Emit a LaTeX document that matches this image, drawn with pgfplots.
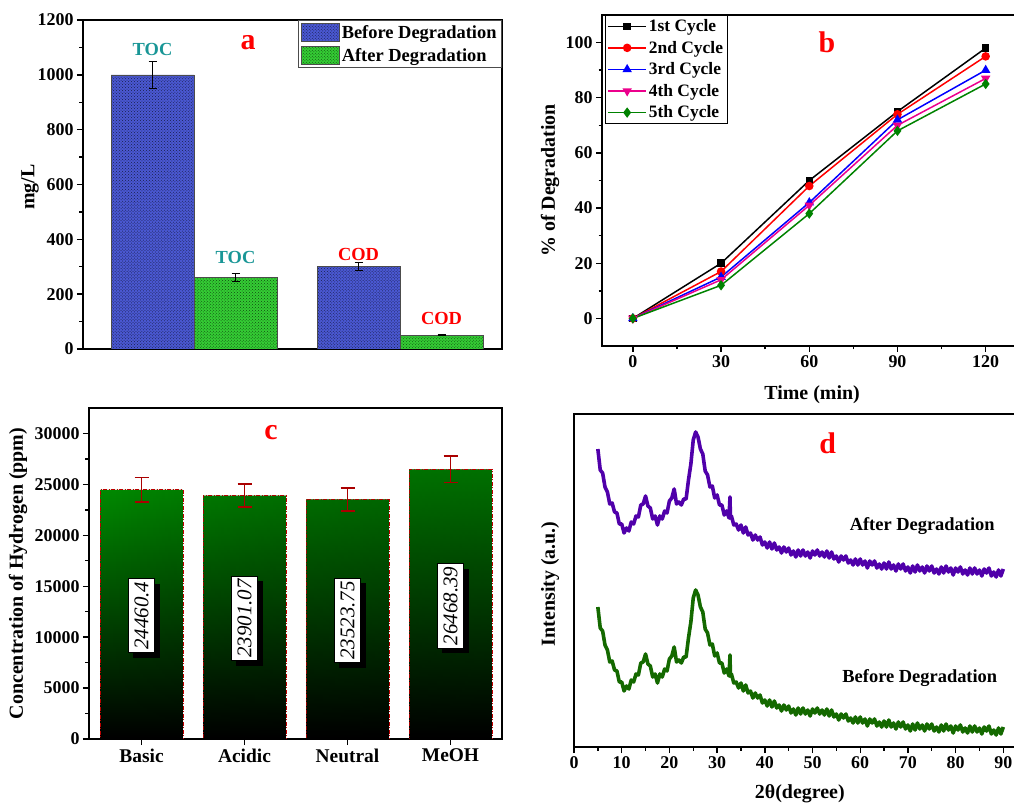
\documentclass[border=0pt]{standalone}
\usepackage{pgfplots}
\pgfplotsset{compat=1.18}
\usepackage{fontspec}
\setmainfont{Liberation Serif}
\usetikzlibrary{patterns,shadows,fadings}

\definecolor{barblue}{RGB}{74,88,210}
\definecolor{bargreen}{RGB}{52,205,52}
\definecolor{tocteal}{RGB}{25,150,150}
\definecolor{hgreen}{RGB}{0,150,0}
\definecolor{errred}{RGB}{170,0,0}
\definecolor{xrdpurple}{RGB}{80,0,170}
\definecolor{xrdgreen}{RGB}{20,105,0}
\definecolor{cycgreen}{RGB}{0,130,0}

\newcommand{\fs}[1]{\fontsize{#1}{#1}\selectfont\bfseries}

\pgfplotsset{
  panel/.style={
    scale only axis, anchor=south west,
    axis line style={line width=2.2bp},
    every tick/.style={black, line width=1.4bp},
    tick align=outside,
    major tick length=6bp,
    minor tick length=3.5bp,
    xtick pos=bottom, ytick pos=left,
    tick label style={font=\fs{18}},
    /pgf/number format/assume math mode=true,
    /pgf/number format/1000 sep={},
    scaled ticks=false,
  },
  ylab/.style 2 args={every axis y label/.style={at={(axis description cs:#1,#2)}, rotate=90, anchor=center, font=\fs{20}}},
  xlab/.style 2 args={every axis x label/.style={at={(axis description cs:#1,#2)}, anchor=center, font=\fs{20}}},
}

\begin{document}
\begin{tikzpicture}
\path[use as bounding box] (0,0) rectangle (1014bp,805bp);

% ---------------- (a) TOC / COD ----------------
\begin{axis}[panel, at={(83bp,456bp)}, width=419bp, height=329bp,
  xmin=0.461, xmax=2.495, ymin=0, ymax=1200,
  xtick=\empty, ytick={0,200,...,1200}, minor y tick num=1,
  ybar, bar width=0.403, bar shift=0pt,
  ylabel={mg/L}, ylab={-0.1265}{0.492},
  area legend,
  legend image code/.code={\draw[#1] (0bp,-9bp) rectangle (38bp,9bp);},
  legend style={at={(1,1)}, anchor=north east, draw=black!70, line width=1bp,
    font=\fs{18.5}, inner xsep=3bp, inner ysep=3bp, row sep=4bp},
  legend cell align=left,
]
\addplot[fill=barblue, draw=black!70, line width=0.6bp,
  postaction={pattern=crosshatch dots, pattern color=barblue!35!black},
  error bars/.cd, y dir=both, y explicit,
  error bar style={black, line width=1bp, solid},
  error mark options={rotate=90, mark size=4bp, line width=1bp, black}]
  coordinates {(0.7985,1000) +- (0,50) (1.7985,300) +- (0,15)};
\addlegendentry{Before Degradation}
\addplot[fill=bargreen, draw=black!70, line width=0.6bp,
  postaction={pattern=crosshatch dots, pattern color=bargreen!35!black},
  error bars/.cd, y dir=both, y explicit,
  error bar style={black, line width=1bp, solid},
  error mark options={rotate=90, mark size=4bp, line width=1bp, black}]
  coordinates {(1.2015,262) +- (0,15) (2.2015,50) +- (0,2)};
\addlegendentry{After Degradation}
\node[font=\fs{18.5}, text=tocteal] at (axis cs:0.7985,1094) {TOC};
\node[font=\fs{18.5}, text=tocteal] at (axis cs:1.2015,332) {TOC};
\node[font=\fs{18.5}, text=red] at (axis cs:1.7985,346) {COD};
\node[font=\fs{18.5}, text=red] at (axis cs:2.2015,113) {COD};
\node[font=\fs{30}, text=red] at (axis cs:1.262,1116) {a};
\end{axis}

% ---------------- (b) degradation cycles ----------------
\begin{axis}[panel, at={(602bp,459bp)}, width=416bp, height=331bp,
  xmin=-10.5, xmax=131, ymin=-10, ymax=110,
  xtick={0,30,...,120}, minor x tick num=1,
  ytick={0,20,...,100}, minor y tick num=1,
  xlabel={Time (min)}, ylabel={\% of Degradation},
  xlab={0.505}{-0.148}, ylab={-0.125}{0.5},
  legend image code/.code={\draw[mark repeat=2, mark phase=2, #1] plot coordinates {(0bp,0bp) (19bp,0bp) (38bp,0bp)};},
  legend style={at={(axis description cs:0.007,1)}, anchor=north west, draw=black, line width=1bp,
    font=\fs{17.5}, inner xsep=2bp, inner ysep=2bp, row sep=4bp},
  legend cell align=left,
  every axis plot/.append style={line width=1.5bp},
]
\addplot[black, mark=square*, mark size=3bp] coordinates {(0,0) (30,20) (60,50) (90,75) (120,98)};
\addlegendentry{1st Cycle}
\addplot[red, mark=*, mark size=3.5bp] coordinates {(0,0) (30,17) (60,48) (90,74) (120,95)};
\addlegendentry{2nd Cycle}
\addplot[blue, mark=triangle*, mark size=4bp] coordinates {(0,0) (30,15) (60,42) (90,72) (120,90)};
\addlegendentry{3rd Cycle}
\addplot[magenta, mark=triangle*, mark size=4bp, mark options={rotate=180}] coordinates {(0,0) (30,14) (60,41) (90,70) (120,87)};
\addlegendentry{4th Cycle}
\addplot[cycgreen, mark=diamond*, mark size=4bp] coordinates {(0,0) (30,12) (60,38) (90,68) (120,85)};
\addlegendentry{5th Cycle}
\node[font=\fs{30}, text=red] at (axis cs:66,100) {b};
\end{axis}

% ---------------- (c) hydrogen concentration ----------------
\begin{axis}[panel, at={(89bp,66bp)}, width=413bp, height=331bp,
  xmin=0.49, xmax=4.5, ymin=0, ymax=32500,
  xtick={1,2,3,4}, xticklabels={Basic,Acidic,Neutral,MeOH},
  xticklabel style={font=\fs{19.5}},
  ytick={0,5000,...,30000}, minor y tick num=1,
  ylabel={Concentration of Hydrogen (ppm)}, ylab={-0.172}{0.5},
  ybar, bar width=0.805, bar shift=0pt,
]
\addplot[draw=red!75!black, line width=0.8bp, dash pattern=on 4bp off 1.5bp on 1bp off 1.5bp,
  top color=hgreen, middle color=hgreen!70!black, bottom color=black,
  postaction={fill=black, fill opacity=0.5, path fading=west},
  error bars/.cd, y dir=both, y explicit,
  error bar style={errred, line width=1.6bp, solid},
  error mark options={rotate=90, mark size=7bp, line width=1.6bp, errred, solid}]
  coordinates {(1,24460.4) +- (0,1200) (2,23901.07) +- (0,1150) (3,23523.75) +- (0,1150) (4,26468.39) +- (0,1300)};
\tikzset{vallabel/.style={rotate=90, fill=white, draw=black, line width=0.6bp,
  inner xsep=3bp, inner ysep=6bp, font=\fontsize{21}{21}\selectfont\itshape,
  drop shadow={shadow xshift=5bp, shadow yshift=-5bp, opacity=1, fill=black}}}
\node[vallabel] at (axis cs:1,12100) {24460.4};
\node[vallabel] at (axis cs:2,11850) {23901.07};
\node[vallabel] at (axis cs:3,11640) {23523.75};
\node[vallabel] at (axis cs:4,13080) {26468.39};
\node[font=\fs{30}, text=red] at (axis cs:2.257,30100) {c};
\end{axis}

% ---------------- (d) XRD patterns ----------------
\begin{axis}[panel, at={(574bp,58bp)}, width=443.6bp, height=333bp,
  xmin=0, xmax=93, ymin=0, ymax=333,
  xtick={0,10,...,90}, minor x tick num=1, ytick=\empty,
  xlabel={2θ(degree)}, ylabel={Intensity (a.u.)},
  xlab={0.509}{-0.141}, ylab={-0.054}{0.49},
  every axis plot/.append style={line width=3.6bp, line join=round},
]
\addplot[xrdpurple] table {
5.0 298
5.5 277
6.0 274
6.5 260
7.0 255
7.5 243
8.0 244
8.5 235
9.0 234
9.5 223
10.0 223
10.5 214
11.0 219
11.5 216
12.0 225
12.5 223
13.0 231
13.5 230
14.0 242
14.5 243
15.0 251
15.5 241
16.0 239
16.5 228
17.0 231
17.5 222
18.0 231
18.5 228
19.0 236
19.5 234
20.0 246
20.5 249
21.0 258
21.5 243
22.0 245
22.5 242
23.0 248
23.5 248
24.0 267
24.5 283
25.0 307
25.5 315
26.0 310
26.5 298
27.0 293
27.5 276
28.0 272
28.5 260
29.0 261
29.5 249
30.0 252
30.5 242
31.0 242
31.5 232
32.0 236
32.5 229
32.7 250
32.8 229
33.0 231
33.5 222
34.0 223
34.5 217
35.0 222
35.5 214
36.0 220
36.5 212
37.0 214
37.5 207
38.0 212
38.5 207
39.0 210
39.5 202
40.0 205
40.5 199
41.0 205
41.5 198
42.0 204
42.5 197
43.0 200
43.5 194
44.0 200
44.5 195
45.0 199
45.5 192
46.0 196
46.5 190
47.0 197
47.5 191
48.0 197
48.5 191
49.0 195
49.5 189
50.0 196
50.5 192
51.0 197
51.5 191
52.0 195
52.5 190
53.0 196
53.5 189
54.0 195
54.5 188
55.0 191
55.5 185
56.0 191
56.5 187
57.0 191
57.5 184
58.0 187
58.5 182
59.0 188
59.5 182
60.0 188
60.5 182
61.0 186
61.5 179
62.0 186
62.5 182
63.0 186
63.5 179
64.0 183
64.5 178
65.0 184
65.5 178
66.0 185
66.5 178
67.0 182
67.5 176
68.0 183
68.5 178
69.0 183
69.5 176
70.0 180
70.5 174
71.0 181
71.5 175
72.0 182
72.5 176
73.0 180
73.5 174
74.0 181
74.5 176
75.0 181
75.5 174
76.0 178
76.5 173
77.0 180
77.5 174
78.0 181
78.5 175
79.0 179
79.5 172
80.0 179
80.5 175
81.0 180
81.5 173
82.0 177
82.5 172
83.0 179
83.5 173
84.0 179
84.5 173
85.0 177
85.5 171
86.0 178
86.5 174
87.0 179
87.5 171
88.0 175
88.5 170
89.0 177
89.5 171
90.0 178
};
\addplot[xrdgreen] table {
5.0 140
5.5 119
6.0 116
6.5 102
7.0 97
7.5 85
8.0 86
8.5 77
9.0 76
9.5 65
10.0 65
10.5 56
11.0 61
11.5 58
12.0 67
12.5 65
13.0 73
13.5 72
14.0 84
14.5 85
15.0 93
15.5 83
16.0 81
16.5 70
17.0 73
17.5 64
18.0 73
18.5 70
19.0 78
19.5 76
20.0 88
20.5 91
21.0 100
21.5 85
22.0 87
22.5 84
23.0 90
23.5 90
24.0 109
24.5 125
25.0 149
25.5 157
26.0 152
26.5 140
27.0 135
27.5 118
28.0 114
28.5 102
29.0 103
29.5 91
30.0 94
30.5 84
31.0 84
31.5 74
32.0 78
32.5 71
32.7 92
32.8 71
33.0 73
33.5 64
34.0 65
34.5 59
35.0 64
35.5 56
36.0 62
36.5 54
37.0 56
37.5 49
38.0 54
38.5 49
39.0 52
39.5 44
40.0 47
40.5 41
41.0 47
41.5 40
42.0 46
42.5 39
43.0 42
43.5 36
44.0 42
44.5 37
45.0 41
45.5 34
46.0 38
46.5 32
47.0 39
47.5 33
48.0 39
48.5 33
49.0 37
49.5 31
50.0 38
50.5 34
51.0 39
51.5 33
52.0 37
52.5 32
53.0 38
53.5 31
54.0 37
54.5 30
55.0 33
55.5 27
56.0 33
56.5 29
57.0 33
57.5 26
58.0 29
58.5 24
59.0 30
59.5 24
60.0 30
60.5 24
61.0 28
61.5 21
62.0 28
62.5 24
63.0 28
63.5 21
64.0 25
64.5 20
65.0 26
65.5 20
66.0 27
66.5 20
67.0 24
67.5 18
68.0 25
68.5 20
69.0 25
69.5 18
70.0 22
70.5 16
71.0 23
71.5 17
72.0 24
72.5 18
73.0 22
73.5 16
74.0 23
74.5 18
75.0 23
75.5 16
76.0 20
76.5 15
77.0 22
77.5 16
78.0 23
78.5 17
79.0 21
79.5 14
80.0 21
80.5 17
81.0 22
81.5 15
82.0 19
82.5 14
83.0 21
83.5 15
84.0 21
84.5 15
85.0 19
85.5 13
86.0 20
86.5 16
87.0 21
87.5 13
88.0 17
88.5 12
89.0 19
89.5 13
90.0 20
};
\node[font=\fs{18.5}] at (axis cs:73,221) {After Degradation};
\node[font=\fs{18.5}] at (axis cs:72.5,69) {Before Degradation};
\node[font=\fs{30}, text=red] at (axis cs:53.2,304) {d};
\end{axis}
\end{tikzpicture}
\end{document}
